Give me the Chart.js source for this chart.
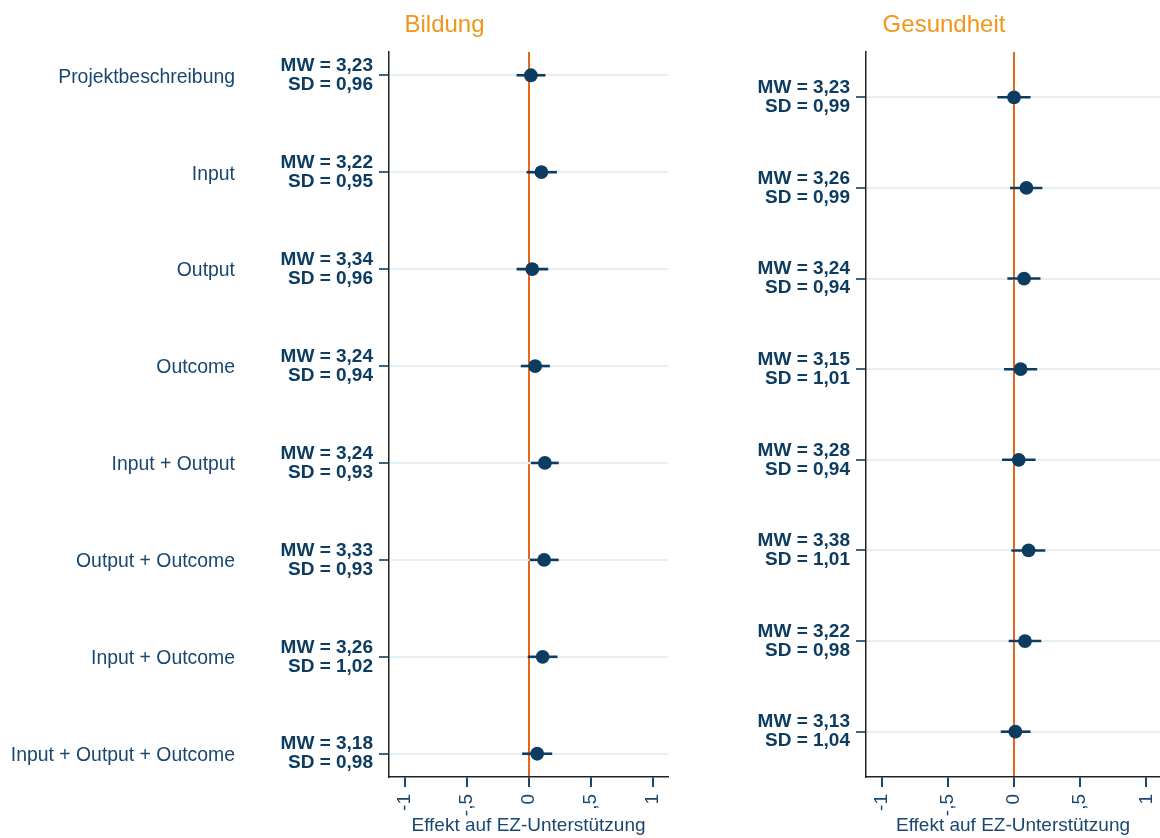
<!DOCTYPE html>
<html><head><meta charset="utf-8">
<script src="https://cdn.jsdelivr.net/npm/chart.js@4.4.1/dist/chart.umd.min.js"></script>
<style>
html,body{margin:0;padding:0;background:#fff;width:1160px;height:838px;overflow:hidden;}
canvas{position:absolute;top:0;}
#c1{left:0px;}
#c2{left:728px;}
</style></head><body>
<canvas id="c1" width="889" height="838"></canvas>
<canvas id="c2" width="432" height="838"></canvas>
<script>
// ---- data ----
const categories = ['Projektbeschreibung','Input','Output','Outcome','Input + Output','Output + Outcome','Input + Outcome','Input + Output + Outcome'];
const panelTitles = ['Bildung','Gesundheit'];
const xTitle = 'Effekt auf EZ-Unterstützung';
const xTickValues = [-1,-0.5,0,0.5,1];
const xTickLabels = ['-1','-,5','0',',5','1'];

const bildungEst = [0.015, 0.10, 0.026, 0.05, 0.128, 0.122, 0.11, 0.066];
const bildungLo  = [-0.10, -0.02, -0.10, -0.066, 0.015, 0.006, -0.01, -0.055];
const bildungHi  = [0.133, 0.225, 0.155, 0.168, 0.24, 0.24, 0.23, 0.187];
const bildungMW  = ['3,23','3,22','3,34','3,24','3,24','3,33','3,26','3,18'];
const bildungSD  = ['0,96','0,95','0,96','0,94','0,93','0,93','1,02','0,98'];

const gesundheitEst = [0.0, 0.094, 0.076, 0.05, 0.036, 0.11, 0.083, 0.01];
const gesundheitLo  = [-0.125, -0.03, -0.05, -0.075, -0.09, -0.02, -0.04, -0.10];
const gesundheitHi  = [0.125, 0.214, 0.2, 0.175, 0.163, 0.236, 0.206, 0.125];
const gesundheitMW  = ['3,23','3,26','3,24','3,15','3,28','3,38','3,22','3,13'];
const gesundheitSD  = ['0,99','0,99','0,94','1,01','0,94','1,01','0,98','1,04'];

// ---- styles ----
const FONT = "'Liberation Sans', Arial, sans-serif";
const NAVY = '#1a476f';
const DARK = '#0c3c60';
const ORANGE = '#e4671d';
const TITLE_ORANGE = '#f0961b';
const GRID = '#e8eff2';

function buildChart(canvasId, opts) {
  const {est, lo, hi, mw, sd, title, withCategories, yMin, yMax, xMin, xMax, mwWidth, catWidth, rightWidth} = opts;
  const datasets = [];
  datasets.push({
    type: 'scatter',
    data: est.map((v, i) => ({x: v, y: i})),
    backgroundColor: DARK,
    borderWidth: 0,
    pointRadius: 6.9,
    xAxisID: 'x', yAxisID: 'y'
  });
  est.forEach((v, i) => {
    datasets.push({
      type: 'scatter',
      showLine: true,
      data: [{x: lo[i], y: i}, {x: hi[i], y: i}],
      borderColor: DARK,
      borderWidth: 2.6,
      pointRadius: 0,
      xAxisID: 'x', yAxisID: 'y'
    });
  });

  const indexTicks = (s) => { s.ticks = categories.map((c, i) => ({value: i})); };

  const scales = {
    x: {
      type: 'linear', position: 'bottom', min: xMin, max: xMax,
      afterBuildTicks: (s) => { s.ticks = xTickValues.map(v => ({value: v})); },
      afterFit: (s) => { s.height = 61; s.paddingLeft = 0; s.paddingRight = 0; },
      ticks: {
        autoSkip: false, minRotation: 90, maxRotation: 90, padding: 7,
        color: NAVY, font: {family: FONT, size: 19},
        callback: (v, i) => xTickLabels[i]
      },
      grid: {
        color: (ctx) => (ctx.tick && ctx.tick.value === 0) ? ORANGE : 'rgba(0,0,0,0)',
        lineWidth: 2, tickColor: NAVY, tickLength: 10, drawOnChartArea: true
      },
      border: {display: true, color: '#222', width: 1.5},
      title: {display: true, text: xTitle, color: NAVY, font: {family: FONT, size: 19}, padding: {top: 0, bottom: 1}}
    },
    y: {
      type: 'linear', position: 'left', reverse: true, min: yMin, max: yMax, weight: 0,
      afterBuildTicks: indexTicks,
      afterFit: (s) => { s.width = mwWidth; },
      ticks: {
        autoSkip: false, padding: 6, color: DARK,
        font: {family: FONT, size: 19, weight: 'bold', lineHeight: 1.0},
        callback: (v, i) => ['MW = ' + mw[i], 'SD = ' + sd[i]]
      },
      grid: {color: GRID, lineWidth: 2, tickColor: '#3d6480', tickLength: 10},
      border: {display: true, color: '#222', width: 1.5}
    }
  };
  if (withCategories) {
    scales.cat = {
      type: 'linear', position: 'left', reverse: true, min: yMin, max: yMax, weight: 1,
      afterBuildTicks: indexTicks,
      afterFit: (s) => { s.width = catWidth; },
      ticks: {
        autoSkip: false, padding: 14, labelOffset: 2, color: NAVY,
        font: {family: FONT, size: 19.4},
        callback: (v, i) => categories[i]
      },
      grid: {display: false, drawTicks: false},
      border: {display: false}
    };
  }
  if (rightWidth > 0) {
    scales.spacer = {
      type: 'linear', position: 'right', min: 0, max: 1,
      afterFit: (s) => { s.width = rightWidth; },
      ticks: {display: false},
      grid: {display: false, drawTicks: false},
      border: {display: false}
    };
  }

  return new Chart(document.getElementById(canvasId), {
    type: 'scatter',
    data: {datasets},
    options: {
      responsive: false, animation: false, devicePixelRatio: 1,
      layout: {padding: 0, autoPadding: false},
      plugins: {
        legend: {display: false}, tooltip: {enabled: false},
        title: {display: true, text: title, color: TITLE_ORANGE, font: {family: FONT, size: 24, weight: 'normal', lineHeight: 1.2}, padding: {top: 11, bottom: 12.2}}
      },
      scales
    }
  });
}

buildChart('c1', {
  est: bildungEst, lo: bildungLo, hi: bildungHi, mw: bildungMW, sd: bildungSD,
  title: panelTitles[0], withCategories: true,
  yMin: -0.24, yMax: 7.24, xMin: -1.129, xMax: 1.121,
  mwWidth: 140, catWidth: 249, rightWidth: 221
});
buildChart('c2', {
  est: gesundheitEst, lo: gesundheitLo, hi: gesundheitHi, mw: gesundheitMW, sd: gesundheitSD,
  title: panelTitles[1], withCategories: false,
  yMin: -0.5, yMax: 7.5, xMin: -1.117, xMax: 1.102,
  mwWidth: 138, catWidth: 0, rightWidth: 0
});
</script>
</body></html>
